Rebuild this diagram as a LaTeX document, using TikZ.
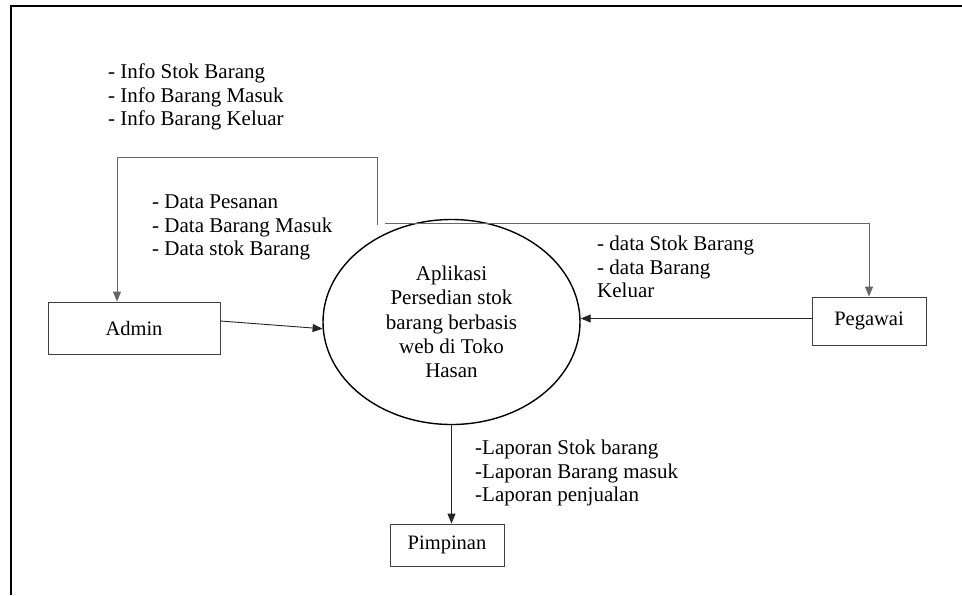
\documentclass[tikz,border=0pt]{standalone}
\usepackage{fontspec}
\setmainfont{Liberation Serif}
\usetikzlibrary{arrows.meta,shapes.geometric}
\begin{document}
\begin{tikzpicture}[x=1pt,y=-1pt,
  txt/.style={font=\fontsize{21}{23.5}\selectfont, inner sep=0pt, align=left, anchor=base west},
  entity/.style={draw=black!75, line width=0.9pt, minimum width=#1, font=\fontsize{20.5}{24}\selectfont, inner sep=0pt},
  flow/.style={draw=black!85, line width=0.9pt, -{Triangle[length=10pt,width=8pt]}},
  flowg/.style={draw=black!60, line width=1pt, -{Triangle[length=10pt,width=8pt]}}]
\useasboundingbox (0,0) rectangle (962,595);
\fill[white] (0,0) rectangle (962,595);
% frame
\draw[line width=2.4pt] (11,595) -- (11,6) -- (962,6);

% nodes
\node[ellipse, draw=black, line width=1.4pt, minimum width=257pt, minimum height=205pt, inner sep=0pt,
      align=center, font=\fontsize{21}{24.2}\selectfont] (sys) at (451.5,322)
  {Aplikasi\\Persedian stok\\barang berbasis\\web di Toko\\Hasan};
\node[entity=172pt, minimum height=52pt] (admin) at (134,328) {Admin};
\node[entity=114pt, minimum height=48pt] (peg) at (869,321) {Pegawai};
\node[entity=114pt, minimum height=42pt] (pim) at (447,545) {Pimpinan};

% labels (anchored at the baseline of the last line)
\node[txt] (linfo) at (108,125.5) {- Info Stok Barang\\- Info Barang Masuk\\- Info Barang Keluar};
\node[txt] (ldata) at (152,255.5) {- Data Pesanan\\- Data Barang Masuk\\- Data stok Barang};
\node[txt] (lpeg) at (597,297.5) {- data Stok Barang\\- data Barang\\Keluar};
\node[txt] (llap) at (475,501.5) {-Laporan Stok barang\\-Laporan Barang masuk\\-Laporan penjualan};

% connectors
\draw[flow] ([yshift=7pt]admin.east) -- (sys.183);
\draw[flow] ([yshift=2.5pt]peg.west) -- ([yshift=2.5pt]peg.west -| sys.east);
\draw[flow] (sys.south) -- (sys.south |- pim.north);

\coordinate (ta) at (377,225);
\coordinate (tb) at (117,157);
\draw[flowg] (ta) |- (tb) -- (tb |- admin.north);

\coordinate (tp) at (385,223);
\draw[flowg] (tp) -| (peg.north);
\end{tikzpicture}
\end{document}
